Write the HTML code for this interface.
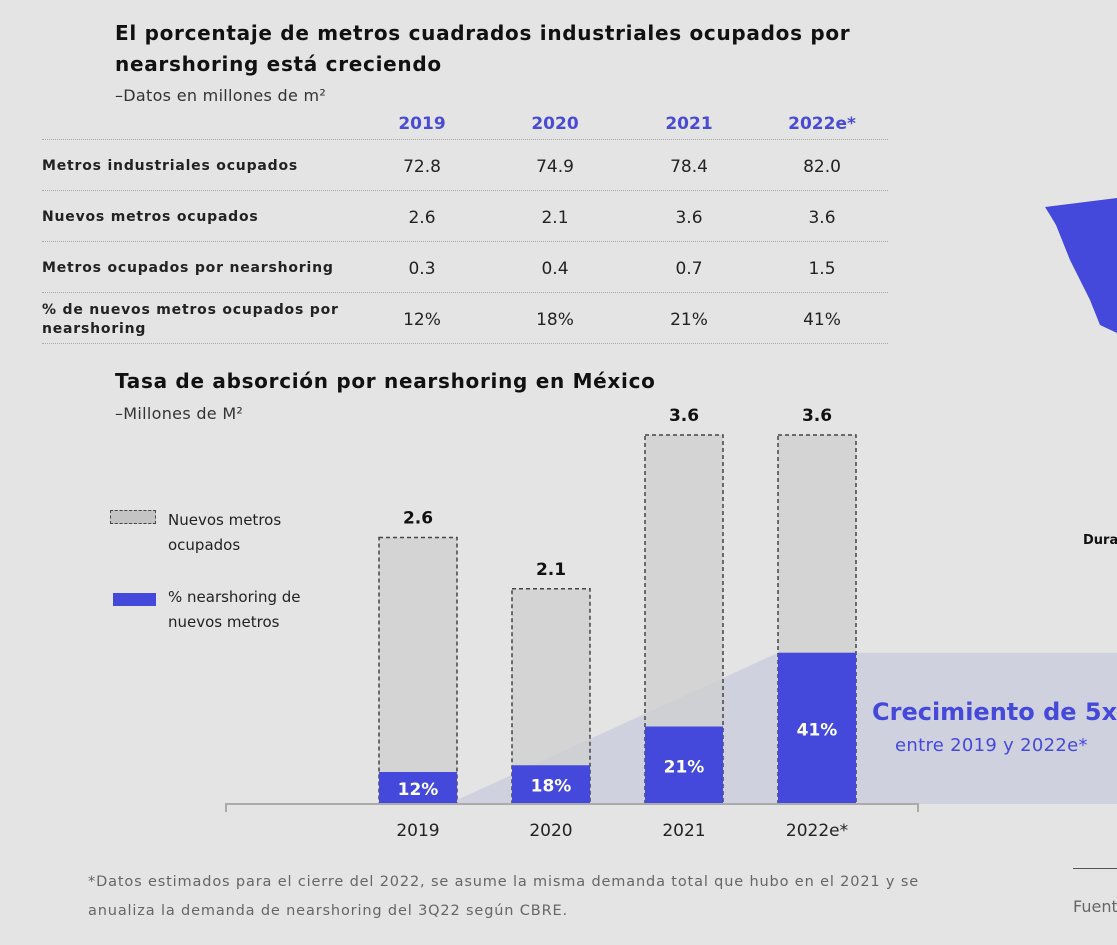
<!DOCTYPE html>
<html><head><meta charset="utf-8"><style>
body{margin:0;width:1117px;height:945px;background:#e4e4e4;font-family:"DejaVu Sans","Liberation Sans",sans-serif;position:relative;overflow:hidden;color:#111}
.a{position:absolute;white-space:nowrap}
.t{font-weight:bold;font-size:20px;line-height:31px;letter-spacing:.7px}
.sub{font-size:16px;color:#333;letter-spacing:.3px}
.row{position:absolute;left:42px;width:846px;border-bottom:1px dotted #aaa}
.lab{position:absolute;left:42px;font-size:14px;font-weight:bold;color:#222;letter-spacing:.8px}
.c{position:absolute;width:100px;text-align:center;font-size:17px;color:#222}
.hd{position:absolute;width:100px;text-align:center;font-size:17px;font-weight:bold;color:#4a4ad8}
</style></head><body>
<div class="a t" style="left:115px;top:18px">El porcentaje de metros cuadrados industriales ocupados por<br>nearshoring está creciendo</div>
<div class="a sub" style="left:115px;top:86px">–Datos en millones de m²</div>
<div>
<div class="row" style="top:139px;height:0"></div>
<div class="hd" style="left:372px;top:114px">2019</div><div class="hd" style="left:505px;top:114px">2020</div><div class="hd" style="left:639px;top:114px">2021</div><div class="hd" style="left:772px;top:114px">2022e*</div>
<div class="row" style="top:190px;height:0"></div><div class="row" style="top:241px;height:0"></div><div class="row" style="top:292px;height:0"></div><div class="row" style="top:343px;height:0"></div>
<div class="lab" style="top:158px">Metros industriales ocupados</div>
<div class="c" style="left:372px;top:157px">72.8</div><div class="c" style="left:505px;top:157px">74.9</div><div class="c" style="left:639px;top:157px">78.4</div><div class="c" style="left:772px;top:157px">82.0</div>
<div class="lab" style="top:209px">Nuevos metros ocupados</div>
<div class="c" style="left:372px;top:208px">2.6</div><div class="c" style="left:505px;top:208px">2.1</div><div class="c" style="left:639px;top:208px">3.6</div><div class="c" style="left:772px;top:208px">3.6</div>
<div class="lab" style="top:260px">Metros ocupados por nearshoring</div>
<div class="c" style="left:372px;top:259px">0.3</div><div class="c" style="left:505px;top:259px">0.4</div><div class="c" style="left:639px;top:259px">0.7</div><div class="c" style="left:772px;top:259px">1.5</div>
<div class="lab" style="top:301px;line-height:19px">% de nuevos metros ocupados por<br>nearshoring</div>
<div class="c" style="left:372px;top:310px">12%</div><div class="c" style="left:505px;top:310px">18%</div><div class="c" style="left:639px;top:310px">21%</div><div class="c" style="left:772px;top:310px">41%</div>
</div>
<div class="a t" style="left:115px;top:366px">Tasa de absorción por nearshoring en México</div>
<div class="a sub" style="left:115px;top:404px">–Millones de M²</div>
<div class="a" style="left:110px;top:510px;width:44px;height:12px;background:#c4c4c4;border:1.5px dashed #444"></div>
<div class="a" style="left:168px;top:508px;font-size:15px;line-height:25px;color:#222">Nuevos metros<br>ocupados</div>
<div class="a" style="left:113px;top:593px;width:43px;height:13px;background:#4448db"></div>
<div class="a" style="left:168px;top:585px;font-size:15px;line-height:25px;color:#222">% nearshoring de<br>nuevos metros</div>
<svg class="a" style="left:0;top:0" width="1117" height="945" id="ch"></svg>
<div class="a" style="left:872px;top:698px;font-size:24px;font-weight:bold;color:#4448db">Crecimiento de 5x</div>
<div class="a" style="left:895px;top:735px;font-size:18px;color:#4448db;letter-spacing:.3px">entre 2019 y 2022e*</div>
<div class="a" style="left:1083px;top:533px;font-size:13px;font-weight:bold">Durango</div>
<div class="a" style="left:1073px;top:868px;width:60px;border-top:1px solid #555"></div>
<div class="a" style="left:1073px;top:897px;font-size:16px;color:#666">Fuente</div>
<div class="a" style="left:88px;top:868px;font-size:14.5px;line-height:29px;color:#666;letter-spacing:.85px">*Datos estimados para el cierre del 2022, se asume la misma demanda total que hubo en el 2021 y se<br>anualiza la demanda de nearshoring del 3Q22 según CBRE.</div>
<script>
const categories=["2019","2020","2021","2022e*"];
const totals=[2.6,2.1,3.6,3.6];
const shares=[12,18,21,41];
const ns="http://www.w3.org/2000/svg";
const svg=document.getElementById('ch');
const base=804,k=102.5,x0=379,step=133,bw=78;
const y=v=>base-v*k, xb=i=>x0+i*step;
function mk(t,a){const e=document.createElementNS(ns,t);for(const n in a)e.setAttribute(n,a[n]);svg.appendChild(e);return e;}
const m=mk('path',{d:"M1045 207 L1117 198 L1117 333 L1100 325 L1090 300 L1080 280 L1070 260 L1062 240 L1056 225 L1050 215 Z",fill:"#4448db"});


const n=categories.length-1;
const pTop=y(totals[n]*shares[n]/100);
const poly=mk('polygon',{points:`${xb(0)+bw},${y(totals[0]*shares[0]/100)+28} ${xb(n)},${pTop} 1117,${pTop} 1117,${base} ${xb(0)+bw},${base}`,fill:"#cfd1df"});


categories.forEach((c,i)=>{
 const x=xb(i);
 const r=mk('rect',{x:x,y:y(totals[i]),width:bw,height:totals[i]*k,fill:"#cfcfcf","fill-opacity":0.75,stroke:"#444","stroke-width":1.5,"stroke-dasharray":"4 3"});
 
 
 const hv=totals[i]*shares[i]/100;
 const b=mk('rect',{x:x,y:y(hv),width:bw,height:hv*k,fill:"#4448db"});
 
 
 const t=mk('text',{x:x+bw/2,y:y(totals[i])-14,"text-anchor":"middle","font-size":17,"font-weight":"bold",fill:"#111","font-family":"DejaVu Sans"});t.textContent=totals[i].toFixed(1);
 
 
 const ly=Math.min(y(hv/2)+7,base-8);
 const p=mk('text',{x:x+bw/2,y:ly,"text-anchor":"middle","font-size":17,"font-weight":"bold",fill:"#fff","font-family":"DejaVu Sans"});p.textContent=shares[i]+"%";
 
 
 const xl=mk('text',{x:x+bw/2,y:836,"text-anchor":"middle","font-size":17,fill:"#222","font-family":"DejaVu Sans"});xl.textContent=c;
 
 
});
const ax=mk('path',{d:`M226 812 V${base} H918 V812`,fill:"none",stroke:"#aaa","stroke-width":2});


</script>
</body></html>
